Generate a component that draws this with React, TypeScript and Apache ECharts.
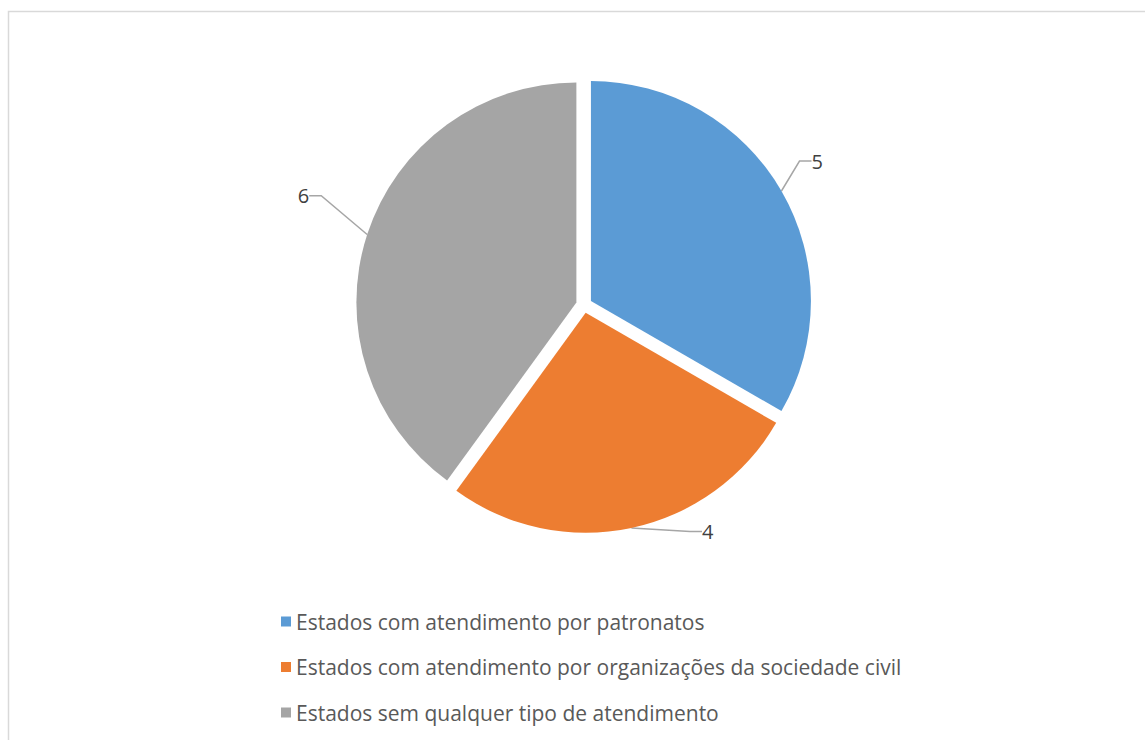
import React, { useEffect, useRef } from "react";
import * as echarts from "echarts";

const categories = [
  "Estados com atendimento por patronatos",
  "Estados com atendimento por organizações da sociedade civil",
  "Estados sem qualquer tipo de atendimento",
];
const values = [5, 4, 6];
const colors = ["#5B9BD5", "#ED7D31", "#A5A5A5"];

const FONT = "'Open Sans', 'Noto Sans', sans-serif";
const CENTER = [584, 305];
const RADIUS = 220;
const EXPLODE = 8;

// label nudges (Excel-style leader placement)
const labelNudge = [
  { dx: -6, dy: -19 },
  { dx: 49, dy: -18 },
  { dx: -20, dy: -32 },
];

export default function App() {
  const ref = useRef<HTMLDivElement>(null);
  useEffect(() => {
    if (!ref.current) return;
    const chart = echarts.init(ref.current, null, { renderer: "svg" });
    const total = values.reduce((a, b) => a + b, 0);
    let cum = 0;
    const series = values.map((v, i) => {
      const mid = ((90 - ((cum + v / 2) / total) * 360) * Math.PI) / 180;
      cum += v;
      return {
        type: "pie",
        center: [CENTER[0] + EXPLODE * Math.cos(mid), CENTER[1] - EXPLODE * Math.sin(mid)],
        radius: RADIUS,
        startAngle: 90,
        clockwise: true,
        avoidLabelOverlap: false,
        emphasis: { disabled: true },
        silent: true,
        itemStyle: { borderWidth: 0 },
        label: {
          position: "outside",
          formatter: "{c}",
          fontFamily: FONT,
          fontSize: 20,
          color: "#404040",
        },
        labelLine: {
          length: 22,
          length2: 12,
          lineStyle: { color: "#a6a6a6", width: 1.5 },
        },
        labelLayout: (params: any) => {
          const n = labelNudge[params.dataIndex] || { dx: 0, dy: 0 };
          const r = params.labelRect;
          return {
            x: r.x + r.width / 2 + n.dx,
            y: r.y + r.height / 2 + n.dy,
            align: "center",
            verticalAlign: "middle",
          };
        },
        data: categories.map((name, j) => ({
          name,
          value: values[j],
          itemStyle: { color: j === i ? colors[j] : "rgba(0,0,0,0)" },
          label: { show: j === i },
          labelLine: { show: j === i },
        })),
      };
    });
    chart.setOption({
      animation: false,
      backgroundColor: "#ffffff",
      graphic: [
        {
          type: "rect",
          shape: { x: 8.5, y: 11.5, width: 1300, height: 900 },
          style: { fill: "none", stroke: "#d9d9d9", lineWidth: 1.5 },
          silent: true,
        },
      ],
      legend: {
        orient: "vertical",
        left: 276,
        top: 606,
        itemWidth: 10,
        itemHeight: 10,
        itemGap: 24.5,
        icon: "rect",
        selectedMode: false,
        textStyle: { fontFamily: FONT, fontSize: 21, color: "#595959" },
        data: categories.map((name, i) => ({ name, itemStyle: { color: colors[i] } })),
      },
      series,
    });
    return () => chart.dispose();
  }, []);
  return (
    <div
      style={{
        position: "fixed",
        left: 0,
        top: 0,
        width: 1145,
        height: 740,
        background: "#fff",
      }}
    >
      <div ref={ref} style={{ width: 1145, height: 740 }} />
    </div>
  );
}
